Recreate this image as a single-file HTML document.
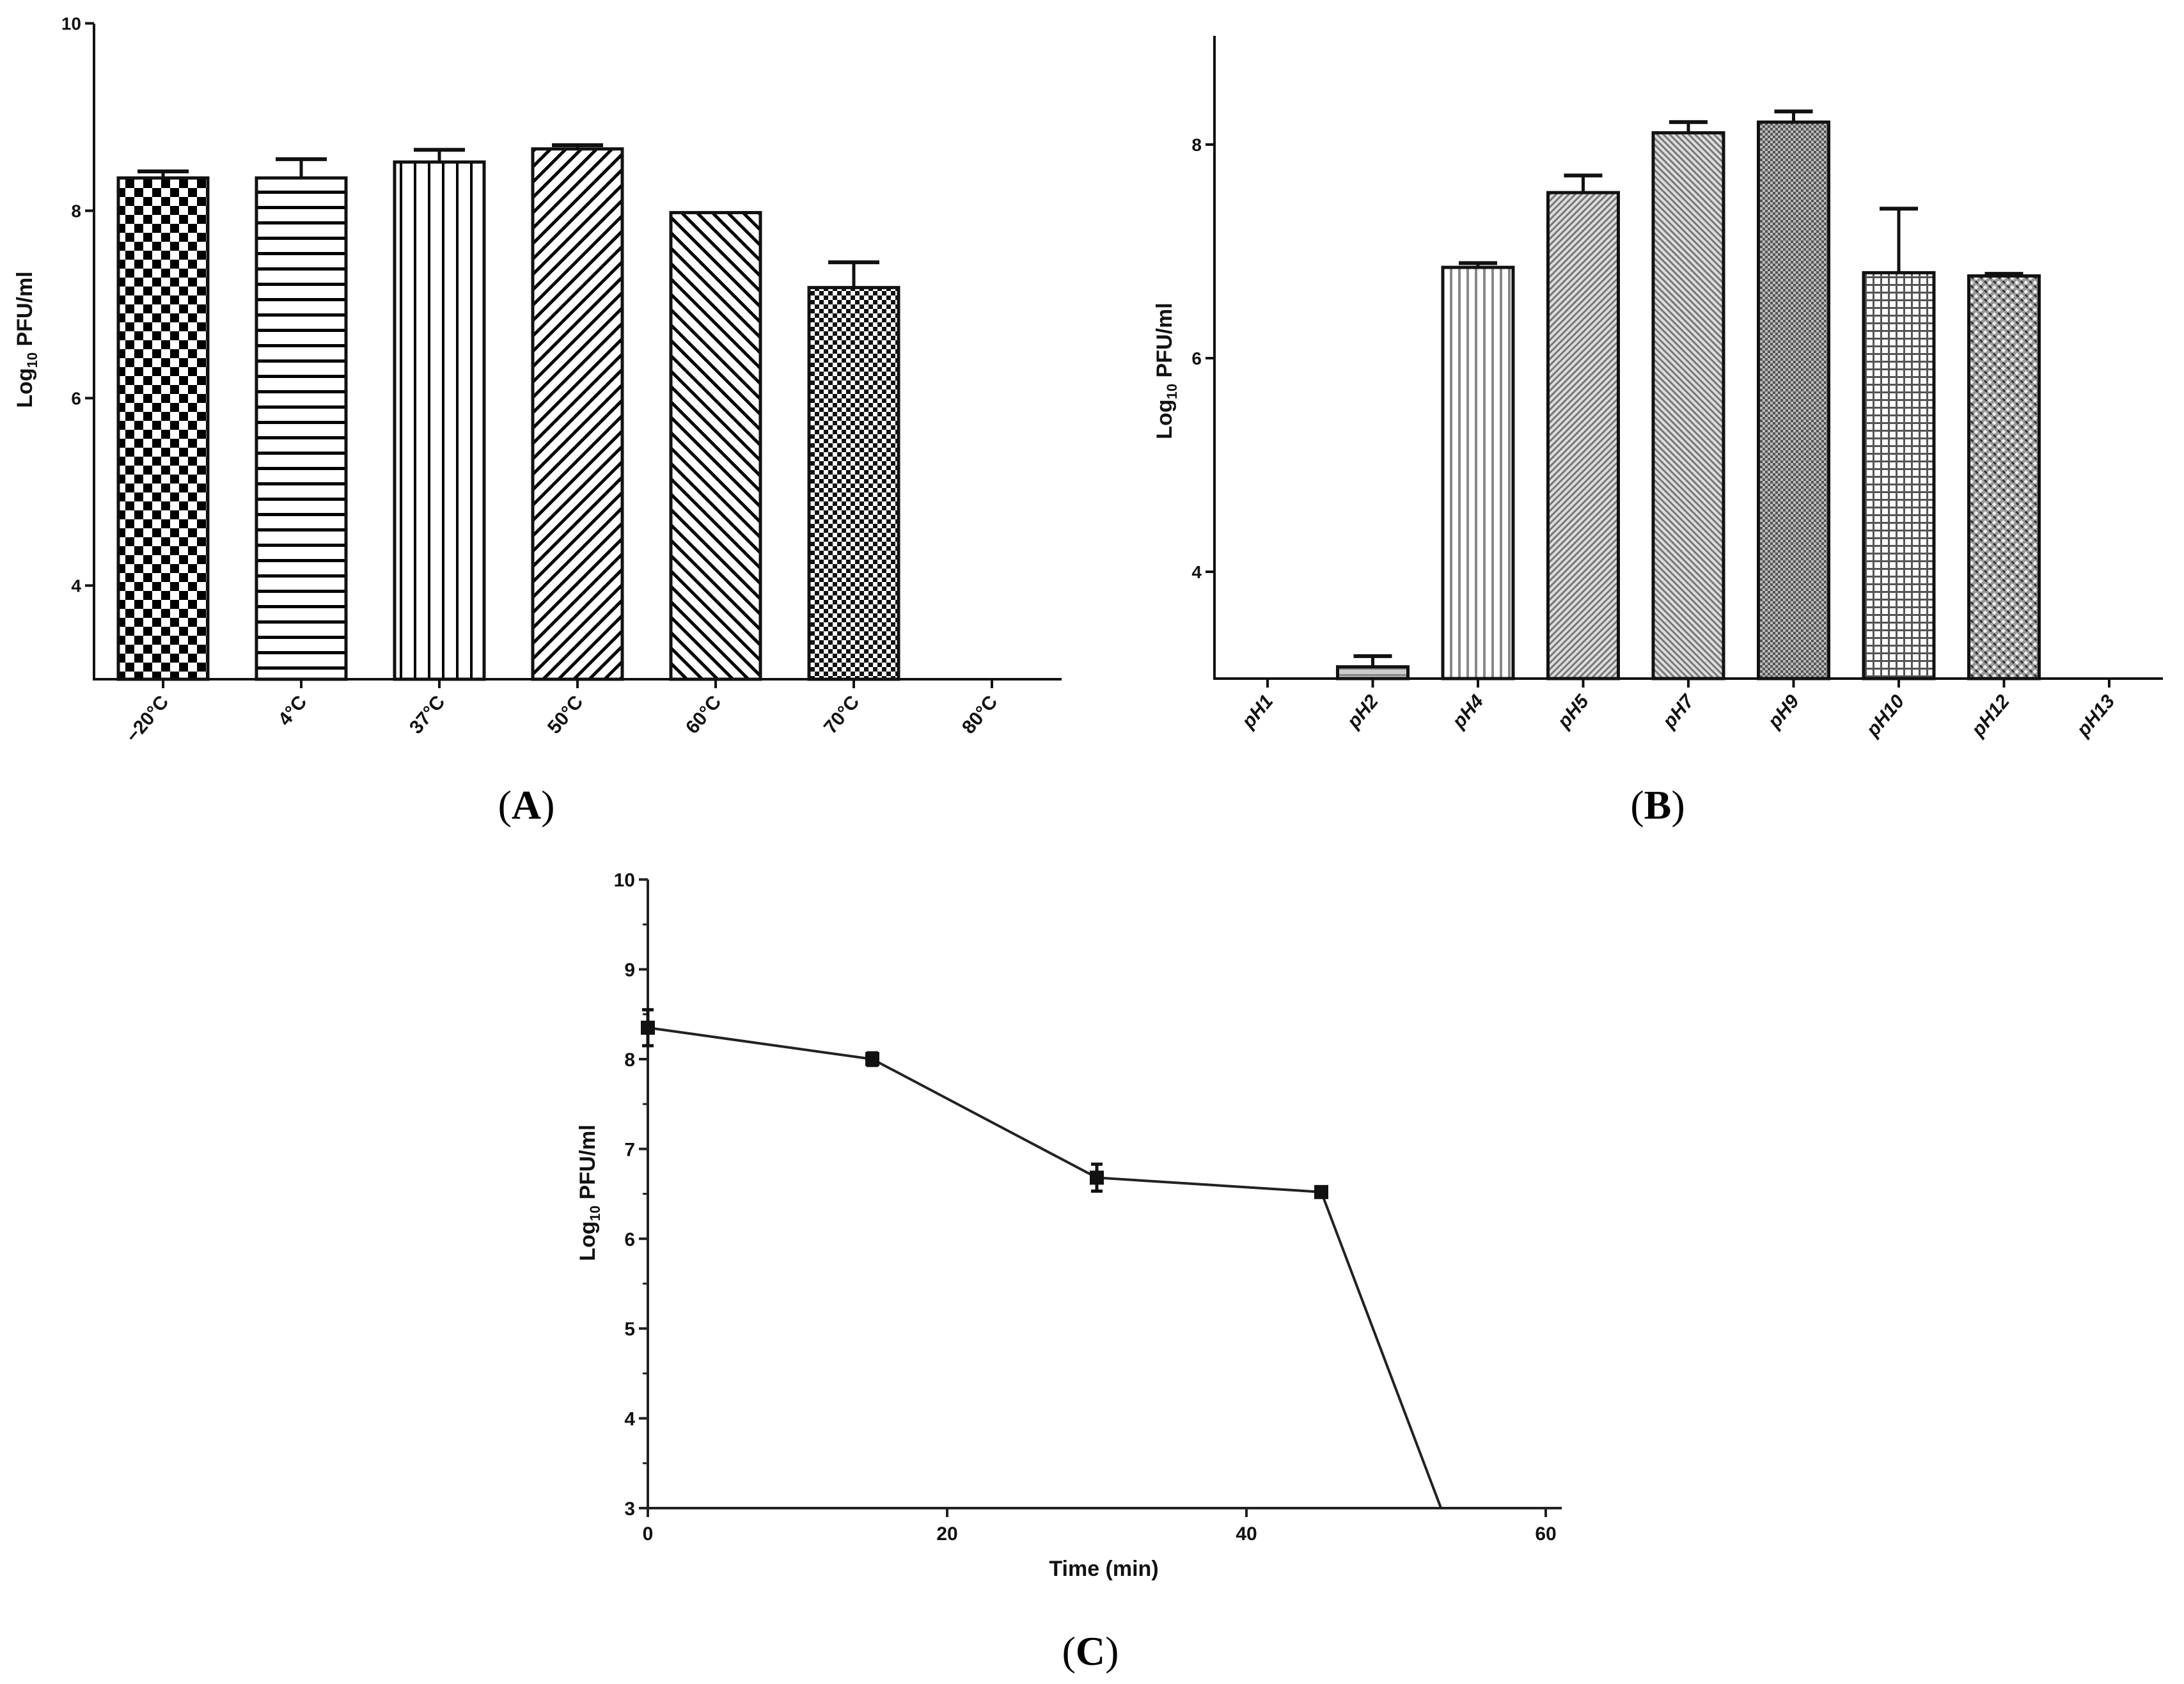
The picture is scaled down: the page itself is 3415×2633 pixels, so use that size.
<!DOCTYPE html>
<html><head><meta charset="utf-8"><style>
html,body{margin:0;padding:0;background:#fff;}
svg{display:block;}
text{font-family:"Liberation Sans",Arial,sans-serif;font-weight:bold;fill:#111;}
.lab{font-family:"Liberation Serif","Times New Roman",serif;font-weight:normal;font-size:64px;fill:#000;}
</style></head><body>
<svg id="fig" width="3415" height="2633" viewBox="0 0 3415 2633" xmlns="http://www.w3.org/2000/svg">
<defs>
<pattern id="pA0" width="28" height="28" patternUnits="userSpaceOnUse"><rect width="28" height="28" fill="#fff"/><rect width="14" height="14" fill="#000"/><rect x="14" y="14" width="14" height="14" fill="#000"/></pattern>
<pattern id="pA1" width="24" height="24" patternUnits="userSpaceOnUse"><rect width="24" height="24" fill="#fff"/><rect y="10" width="24" height="5" fill="#000"/></pattern>
<pattern id="pA2" width="22" height="22" patternUnits="userSpaceOnUse"><rect width="22" height="22" fill="#fff"/><rect x="9" width="4" height="22" fill="#000"/></pattern>
<pattern id="pA3" width="17" height="17" patternUnits="userSpaceOnUse" patternTransform="rotate(45)"><rect width="17" height="17" fill="#fff"/><rect x="6" width="5" height="17" fill="#000"/></pattern>
<pattern id="pA4" width="17" height="17" patternUnits="userSpaceOnUse" patternTransform="rotate(-45)"><rect width="17" height="17" fill="#fff"/><rect x="6" width="5" height="17" fill="#000"/></pattern>
<pattern id="pA5" width="14" height="14" patternUnits="userSpaceOnUse"><rect width="14" height="14" fill="#fff"/><rect width="7" height="7" fill="#111"/><rect x="7" y="7" width="7" height="7" fill="#111"/></pattern>
<pattern id="pB1" width="10" height="10" patternUnits="userSpaceOnUse"><rect width="10" height="10" fill="#ccc"/><rect y="4" width="10" height="3" fill="#888"/></pattern>
<pattern id="pB2" width="13" height="13" patternUnits="userSpaceOnUse"><rect width="13" height="13" fill="#fff"/><rect x="5" width="4" height="13" fill="#888"/></pattern>
<pattern id="pB3" width="7" height="7" patternUnits="userSpaceOnUse" patternTransform="rotate(45)"><rect width="7" height="7" fill="#ddd"/><rect x="2" width="3" height="7" fill="#777"/></pattern>
<pattern id="pB4" width="7" height="7" patternUnits="userSpaceOnUse" patternTransform="rotate(-45)"><rect width="7" height="7" fill="#ddd"/><rect x="2" width="3" height="7" fill="#777"/></pattern>
<pattern id="pB5" width="8" height="8" patternUnits="userSpaceOnUse"><rect width="8" height="8" fill="#bbb"/><rect width="4" height="4" fill="#555"/><rect x="4" y="4" width="4" height="4" fill="#555"/></pattern>
<pattern id="pB6" width="12" height="12" patternUnits="userSpaceOnUse"><rect width="12" height="12" fill="#fff"/><rect width="12" height="3" fill="#555"/><rect width="3" height="12" fill="#555"/></pattern>
<pattern id="pB7" width="10" height="10" patternUnits="userSpaceOnUse" patternTransform="rotate(45)"><rect width="10" height="10" fill="#999"/><rect width="5" height="5" fill="#eee"/><rect x="5" y="5" width="5" height="3" fill="#333"/></pattern>
</defs>
<g id="gA"></g>
<g id="gB"></g>
<g id="gC"></g>
<text class="lab" x="823" y="1280" text-anchor="middle">(<tspan font-weight="bold">A</tspan>)</text>
<text class="lab" x="2592" y="1280" text-anchor="middle">(<tspan font-weight="bold">B</tspan>)</text>
<text class="lab" x="1705" y="2603" text-anchor="middle">(<tspan font-weight="bold">C</tspan>)</text>
</svg>
<script>
// Panel A data
const aCategories = ["\u221220\u00B0C","4\u00B0C","37\u00B0C","50\u00B0C","60\u00B0C","70\u00B0C","80\u00B0C"];
const aValues = [8.35, 8.35, 8.52, 8.66, 7.98, 7.18, null];
const aErrors = [0.07, 0.2, 0.13, 0.04, 0, 0.27, 0];
const aTicks = [4, 6, 8, 10];
// Panel B data
const bCategories = ["pH1","pH2","pH4","pH5","pH7","pH9","pH10","pH12","pH13"];
const bValues = [null, 3.11, 6.85, 7.55, 8.11, 8.21, 6.80, 6.77, null];
const bErrors = [0, 0.1, 0.04, 0.16, 0.1, 0.1, 0.6, 0.02, 0];
const bTicks = [4, 6, 8];
// Panel C data
const cTimes = [0, 15, 30, 45, 53];
const cValues = [8.35, 8.0, 6.68, 6.52, 3.0];
const cErrors = [0.2, 0.07, 0.15, 0.03, 0];
const cXTicks = [0, 20, 40, 60];
const cYTicks = [3, 4, 5, 6, 7, 8, 9, 10];

const NS = "http://www.w3.org/2000/svg";
function mk(parent, tag, attrs, txt){
  const e = document.createElementNS(NS, tag);
  for (const k in attrs) e.setAttribute(k, attrs[k]);
  if (txt !== undefined) e.textContent = txt;
  parent.appendChild(e);
  return e;
}

function barPanel(g, cfg, cats, vals, errs, ticks, pats, prefix){
  const y = v => cfg.y0 - (v - cfg.vmin) * cfg.ppu;
  const x = i => cfg.x0c + i * cfg.step;
  const ax = mk(g,'line',{x1:cfg.axX,y1:cfg.axTop,x2:cfg.axX,y2:cfg.y0+2,stroke:'#111','stroke-width':4});
  
  
  const xa = mk(g,'line',{x1:cfg.axX,y1:cfg.y0,x2:cfg.axRight,y2:cfg.y0,stroke:'#111','stroke-width':4});
  
  
  ticks.forEach(t=>{
    const tk = mk(g,'line',{x1:cfg.axX-14,y1:y(t),x2:cfg.axX,y2:y(t),stroke:'#111','stroke-width':4});
    
    
    const tl = mk(g,'text',{x:cfg.axX-20,y:y(t)+10,'text-anchor':'end','font-size':28},String(t));
    
    
  });
  cats.forEach((c,i)=>{
    const cx = x(i);
    const tk = mk(g,'line',{x1:cx,y1:cfg.y0,x2:cx,y2:cfg.y0+14,stroke:'#111','stroke-width':4});
    
    
    const lb = mk(g,'text',{x:cx+10,y:cfg.y0+36,'text-anchor':'end','font-size':cfg.fs,transform:`rotate(-50 ${cx+10} ${cfg.y0+36})`,'font-style':cfg.italic?'italic':'normal'},c);
    
    
    const v = vals[i];
    if (v === null) return;
    const e = errs[i];
    if (e > 0){
      const el = mk(g,'line',{x1:cx,y1:y(v),x2:cx,y2:y(v+e),stroke:'#111','stroke-width':5});
      
      
      const cap = mk(g,'line',{x1:cx-cfg.cap/2,y1:y(v+e),x2:cx+cfg.cap/2,y2:y(v+e),stroke:'#111','stroke-width':6});
      
      
    }
    const r = mk(g,'rect',{x:cx-cfg.bw/2,y:y(v),width:cfg.bw,height:cfg.y0-y(v),fill:`url(#${pats[i]})`,stroke:'#111','stroke-width':5});
    
    
  });
  const yt = mk(g,'text',{x:cfg.titleX,y:cfg.titleY,'text-anchor':'middle','font-size':34,transform:`rotate(-90 ${cfg.titleX} ${cfg.titleY})`});
  
  
  yt.innerHTML = 'Log<tspan font-size="22" dy="8">10</tspan><tspan dy="-8"> PFU/ml</tspan>';
}

barPanel(document.getElementById('gA'),
  {y0:1062,vmin:3,ppu:146.5,x0c:255,step:216,axX:147,axTop:37,axRight:1660,bw:140,cap:80,fs:30,italic:false,titleX:50,titleY:531},
  aCategories,aValues,aErrors,aTicks,["pA0","pA1","pA2","pA3","pA4","pA5","pA0"],'panel-a');
barPanel(document.getElementById('gB'),
  {y0:1061,vmin:3,ppu:167,x0c:1982,step:164.5,axX:1899,axTop:56,axRight:3382,bw:110,cap:60,fs:30,italic:true,titleX:1832,titleY:580},
  bCategories,bValues,bErrors,bTicks,["pB1","pB1","pB2","pB3","pB4","pB5","pB6","pB7","pB1"],'panel-b');

// Panel C
(function(){
  const g = document.getElementById('gC');
  const X0=1013, XR=2442, Y0=2358, ppuY=140.4, ppuX=23.4;
  const x = t => X0 + t*ppuX;
  const y = v => Y0 - (v-3)*ppuY;
  const ya = mk(g,'line',{x1:X0,y1:y(10),x2:X0,y2:Y0+2,stroke:'#222','stroke-width':4});
  
  
  const xa = mk(g,'line',{x1:X0,y1:Y0,x2:XR,y2:Y0,stroke:'#222','stroke-width':4});
  
  
  cYTicks.forEach(t=>{
    const tk = mk(g,'line',{x1:X0-14,y1:y(t),x2:X0,y2:y(t),stroke:'#222','stroke-width':4});
    
    
    if (t<10){
      const mt = mk(g,'line',{x1:X0-8,y1:y(t+0.5),x2:X0,y2:y(t+0.5),stroke:'#222','stroke-width':3});
      
      
    }
    const tl = mk(g,'text',{x:X0-20,y:y(t)+11,'text-anchor':'end','font-size':30},String(t));
    
    
  });
  cXTicks.forEach(t=>{
    const tk = mk(g,'line',{x1:x(t),y1:Y0,x2:x(t),y2:Y0+14,stroke:'#222','stroke-width':4});
    
    
    const tl = mk(g,'text',{x:x(t),y:Y0+50,'text-anchor':'middle','font-size':30},String(t));
    
    
  });
  const pts = cTimes.map((t,i)=>x(t)+','+y(cValues[i])).join(' ');
  const pl = mk(g,'polyline',{points:pts,fill:'none',stroke:'#222','stroke-width':4});
  
  
  cTimes.forEach((t,i)=>{
    if (cValues[i] <= 3) return;
    const e = cErrors[i];
    if (e>0){
      const eb = mk(g,'path',{d:`M${x(t)},${y(cValues[i]+e)}V${y(cValues[i]-e)}M${x(t)-9},${y(cValues[i]+e)}h18M${x(t)-9},${y(cValues[i]-e)}h18`,stroke:'#111','stroke-width':5,fill:'none'});
      
      
    }
    const m = mk(g,'rect',{x:x(t)-11,y:y(cValues[i])-11,width:22,height:22,fill:'#111'});
    
    
  });
  const xt = mk(g,'text',{x:1726,y:2464,'text-anchor':'middle','font-size':34},'Time (min)');
  
  
  const yt = mk(g,'text',{x:930,y:1865,'text-anchor':'middle','font-size':34,transform:'rotate(-90 930 1865)'});
  
  
  yt.innerHTML = 'Log<tspan font-size="22" dy="8">10</tspan><tspan dy="-8"> PFU/ml</tspan>';
})();
</script>
</body></html>
